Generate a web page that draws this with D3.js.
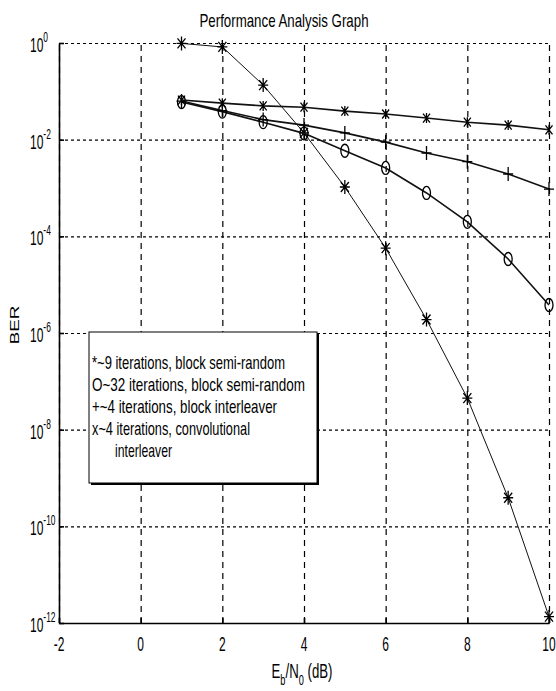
<!DOCTYPE html>
<html>
<head>
<meta charset="utf-8">
<script src="https://cdn.jsdelivr.net/npm/d3@7/dist/d3.min.js"></script>
<style>
  body { margin: 0; background: #fff; }
  svg { display: block; font-family: "Liberation Sans", Arial, sans-serif; }
</style>
</head>
<body>
<svg id="chart" width="556" height="691"></svg>
<script>
// values
const snr = [1, 2, 3, 4, 5, 6, 7, 8, 9, 10];
const berStar9 = [0.98, 0.83, 0.135, 0.0138, 1.05e-3, 5.7e-5, 1.9e-6, 4.5e-8, 3.9e-10, 1.35e-12];
const berCircle32 = [0.06, 0.038, 0.023, 0.0135, 5.9e-3, 2.6e-3, 7.9e-4, 2.0e-4, 3.4e-5, 3.8e-6];
const berPlusBlock = [0.063, 0.04, 0.026, 0.02, 0.0138, 8.9e-3, 5.3e-3, 3.5e-3, 1.95e-3, 9.5e-4];
const berCrossConv = [0.066, 0.057, 0.05, 0.047, 0.039, 0.034, 0.028, 0.023, 0.02, 0.016];

const xTicks = [-2, 0, 2, 4, 6, 8, 10];
const yExponents = [0, -2, -4, -6, -8, -10, -12];
const legendLines = [
  "*~9 iterations, block semi-random",
  "O~32 iterations, block semi-random",
  "+~4 iterations, block interleaver",
  "x~4 iterations, convolutional",
  "interleaver"
];

const svg = d3.select("#chart");
const plotL = 59, plotR = 549, plotT = 43, plotB = 623;

const x = d3.scaleLinear().domain([-2, 10]).range([plotL, plotR]);
const y = d3.scaleLog().domain([1e-12, 1]).range([plotB, plotT]);
const yTickVals = yExponents.map(e => Math.pow(10, e));

// grid: vertical dashed, horizontal dotted
svg.append("g")
    .attr("transform", `translate(0,${plotB})`)
    .call(d3.axisBottom(x).tickValues(xTicks).tickSize(-(plotB - plotT)).tickFormat(""))
    .call(g => g.select(".domain").remove())
    .call(g => g.selectAll("line")
        .attr("stroke", "#000").attr("stroke-width", 1.2)
        .attr("stroke-dasharray", "6,5"));

svg.append("g")
    .attr("transform", `translate(${plotL},0)`)
    .call(d3.axisLeft(y).tickValues(yTickVals).tickSize(-(plotR - plotL)).tickFormat(""))
    .call(g => g.select(".domain").remove())
    .call(g => g.selectAll("line")
        .attr("stroke", "#000").attr("stroke-width", 1.2)
        .attr("stroke-dasharray", "3,3"));

// axes lines with small inner ticks
svg.append("g")
    .attr("transform", `translate(0,${plotB})`)
    .call(d3.axisBottom(x).tickValues(xTicks).tickSizeInner(-5).tickSizeOuter(0).tickFormat(""))
    .call(g => g.select(".domain").attr("stroke-width", 1.6))
    .call(g => g.selectAll("line").attr("stroke-width", 1.6));

svg.append("g")
    .attr("transform", `translate(${plotL},0)`)
    .call(d3.axisLeft(y).tickValues(yTickVals).tickSizeInner(-5).tickSizeOuter(0).tickFormat(""))
    .call(g => g.select(".domain").attr("stroke-width", 1.6))
    .call(g => g.selectAll("line").attr("stroke-width", 1.6));

// tall, narrow text like the stretched original
function narrowText(sel, px, py, sx, size) {
  return sel.append("text")
      .attr("transform", `translate(${px},${py}) scale(${sx},1)`)
      .attr("font-size", size)
      .attr("fill", "#000");
}

// x tick labels
xTicks.forEach(v => {
  narrowText(svg, x(v), plotB + 28, 0.6, 20)
      .attr("text-anchor", "middle")
      .text(v < 0 ? "-" + Math.abs(v) : v);
});

// y tick labels: 10 with superscript exponent
yExponents.forEach(e => {
  const t = narrowText(svg, 30, y(Math.pow(10, e)) + 9, 0.6, 20);
  t.append("tspan").text("10");
  t.append("tspan").attr("font-size", 14).attr("dy", -10).text(e === 0 ? "0" : "-" + Math.abs(e));
});

// title
narrowText(svg, 284, 27, 0.7, 19)
    .attr("text-anchor", "middle")
    .text("Performance Analysis Graph");

// axis titles
const xl = narrowText(svg, 302, 678, 0.66, 20).attr("text-anchor", "middle");
xl.append("tspan").text("E");
xl.append("tspan").attr("font-size", 14).attr("dy", 7).text("b");
xl.append("tspan").attr("dy", -7).text("/N");
xl.append("tspan").attr("font-size", 14).attr("dy", 7).text("0");
xl.append("tspan").attr("dy", -7).text(" (dB)");

svg.append("text")
    .attr("transform", `translate(19,${(plotT + plotB) / 2 - 8}) rotate(-90) scale(1.45,1)`)
    .attr("text-anchor", "middle")
    .attr("font-size", 13)
    .text("BER");

// markers
const markerPath = {
  star: "M-5,0H5M0,-7V7M-4,-5L4,5M-4,5L4,-5",
  circle: "M0,-6.5A4,6.5 0 1,1 0,6.5A4,6.5 0 1,1 0,-6.5Z",
  plus: "M-5,0H5M0,-7V7",
  cross: "M-3.5,-4.5L3.5,4.5M-3.5,4.5L3.5,-4.5M0,-5V5"
};

const series = [
  { values: berStar9, marker: "star", width: 1 },
  { values: berCircle32, marker: "circle", width: 1.6 },
  { values: berPlusBlock, marker: "plus", width: 1.6 },
  { values: berCrossConv, marker: "cross", width: 1.6 }
];

const line = d3.line().x(d => x(d[0])).y(d => y(d[1]));

series.forEach(s => {
  const pts = snr.map((v, i) => [v, s.values[i]]);
  svg.append("path")
      .datum(pts)
      .attr("fill", "none")
      .attr("stroke", "#111")
      .attr("stroke-width", s.width)
      .attr("d", line);
  svg.append("g").selectAll("path")
      .data(pts)
      .join("path")
      .attr("transform", d => `translate(${x(d[0])},${y(d[1])})`)
      .attr("d", markerPath[s.marker])
      .attr("fill", "none")
      .attr("stroke", "#000")
      .attr("stroke-width", 1.3);
});

// legend box
const lg = svg.append("g");
lg.append("rect")
    .attr("x", 91).attr("y", 334).attr("width", 228).attr("height", 151)
    .attr("fill", "#000");
lg.append("rect")
    .attr("x", 89).attr("y", 332).attr("width", 228).attr("height", 151)
    .attr("fill", "#fff").attr("stroke", "#000").attr("stroke-width", 1);

const legendWidths = [193, 213, 185, 158, 57];
legendLines.forEach((s, i) => {
  lg.append("text")
      .attr("x", i === 4 ? 115 : 92)
      .attr("y", 369 + i * 22)
      .attr("font-size", 19)
      .attr("textLength", legendWidths[i]).attr("lengthAdjust", "spacingAndGlyphs")
      .text(s);
});
</script>
</body>
</html>
